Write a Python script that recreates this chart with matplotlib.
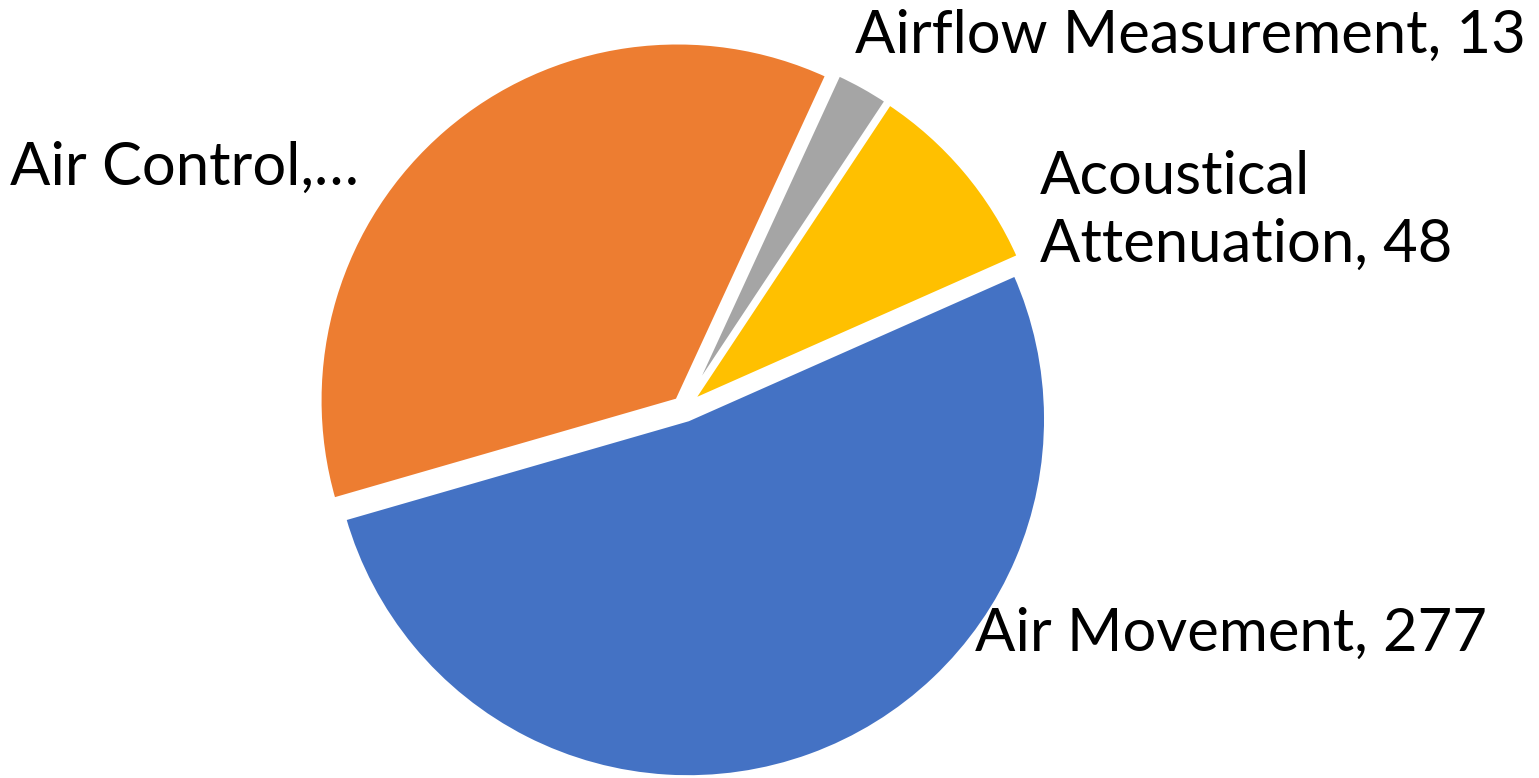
import matplotlib
matplotlib.use("Agg")
import matplotlib.pyplot as plt

# data
labels = ["Air Movement", "Air Control", "Airflow Measurement", "Acoustical Attenuation"]
values = [277, 193, 13, 48]
colors = ["#4472C4", "#ED7D31", "#A5A5A5", "#FFC000"]
label_texts = ["Air Movement, 277", "Air Control,\u2026", "Airflow Measurement, 13", "Acoustical\nAttenuation, 48"]

W, H = 1539, 778
fig = plt.figure(figsize=(W / 100, H / 100), dpi=100)
ax = fig.add_axes([0, 0, 1, 1])

# explode is in data units (pixels) here
ax.pie(values, colors=colors, startangle=23.9, counterclock=False,
       center=(684, H - 408), radius=358, explode=[12, 10, 10, 10],
       wedgeprops=dict(edgecolor="white", linewidth=3), frame=True)
ax.set_xlim(0, W)
ax.set_ylim(0, H)
ax.set_aspect("equal")
ax.axis("off")

# label positions in pixels (x, baseline y from top)
pos = [(975, 651), (10, 185), (855, 53), (1040, 262)]
for txt, (x, y) in zip(label_texts, pos):
    ax.text(x, H - y, txt, fontsize=43, family="Lato", ha="left", va="baseline",
            color="black", linespacing=1.32)

fig.savefig("out.png", dpi=100)
